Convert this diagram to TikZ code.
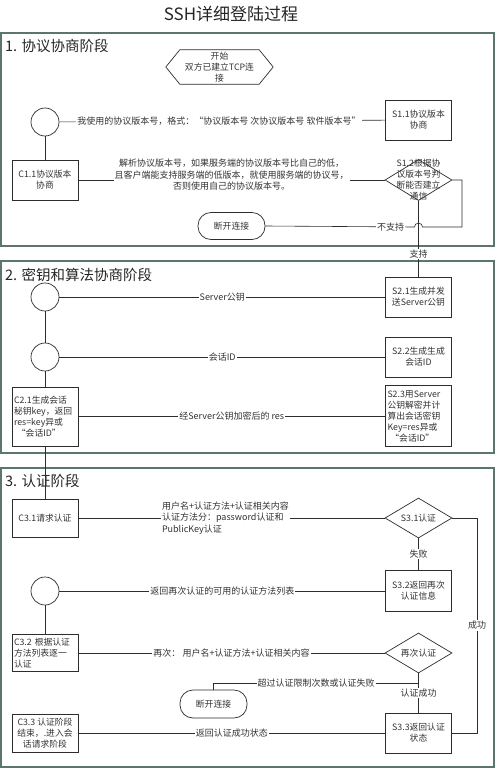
\documentclass[tikz,border=0pt]{standalone}
\usepackage{fontspec}
\setmainfont{Noto Sans CJK SC}
\usetikzlibrary{shapes.geometric}
\definecolor{framec}{RGB}{92,118,110}
\definecolor{linec}{RGB}{45,45,45}
\begin{document}
\begin{tikzpicture}[x=1pt,y=-1pt,
  frm/.style={draw=framec, line width=1.3pt},
  sbox/.style={draw=linec, line width=0.7pt, minimum width=66pt, minimum height=40pt, inner sep=2pt, align=center, font=\fontsize{8.8}{11}\selectfont, text=black!80},
  lbox/.style={sbox, align=left, text width=62pt},
  ccirc/.style={draw=linec, line width=0.7pt, circle, minimum size=28pt, inner sep=0pt},
  sdia/.style={draw=linec, line width=0.7pt, diamond, minimum width=67pt, minimum height=41pt, inner sep=0pt},
  dtext/.style={align=center, font=\fontsize{8.8}{11}\selectfont, text=black!80, inner sep=0pt},
  sterm/.style={draw=linec, line width=0.7pt, rounded corners=13pt, minimum width=67pt, minimum height=27pt, font=\fontsize{8.8}{11}\selectfont, text=black!80},
  cline/.style={draw=linec, line width=0.6pt},
  elbl/.style={fill=white, inner sep=1pt, font=\fontsize{9}{11.5}\selectfont, text=black!80},
  phlabel/.style={anchor=west, font=\fontsize{14.5}{16}\selectfont, inner sep=0pt, text=black!85}
]
\useasboundingbox (0,0) rectangle (495,768);
\fill[white] (0,0) rectangle (495,768);

% title
\node[font=\fontsize{17}{20}\selectfont, text=black!85] (title) at (231,14) {SSH详细登陆过程};

% frames
\draw[frm] (1,33) rectangle (494,246);
\draw[frm] (1,261) rectangle (494,453);
\draw[frm] (1,468) rectangle (494,767);

\node[phlabel] (p1) at (5,46) {1. 协议协商阶段};
\node[phlabel] (p2) at (5,275) {2. 密钥和算法协商阶段};
\node[phlabel] (p3) at (5,481) {3. 认证阶段};

% ---------- phase 1 ----------
\node[minimum width=107pt, minimum height=34pt, inner sep=0pt, align=center,
      font=\fontsize{8.8}{11}\selectfont, text=black!80] (start) at (219.5,67) {开始\\双方已建立TCP连\\接};
\draw[linec, line width=0.7pt] (start.west) -- ([xshift=14pt]start.north west) -- ([xshift=-14pt]start.north east)
  -- (start.east) -- ([xshift=-14pt]start.south east) -- ([xshift=14pt]start.south west) -- cycle;

\node[ccirc] (c1) at (45,122) {};
\node[sbox] (s11) at (418.5,120) {S1.1协议版本\\协商};
\node[sbox] (c11) at (45,180) {C1.1协议版本\\协商};
\node[sdia] (s12) at (418.5,180) {};
\node[dtext] (s12t) at (418.5,180) {S1.2根据协\\议版本号判\\断能否建立\\通信};
\node[sterm] (t1) at (231.5,226) {断开连接};

\draw[cline] (c1) -- node[elbl, pos=0.49] {我使用的协议版本号，格式：“协议版本号 次协议版本号 软件版本号”} (s11);
\draw[cline] (c1) -- (c11);
\draw[cline] (c11) -- node[elbl, align=center, yshift=5pt] {解析协议版本号，如果服务端的协议版本号比自己的低，\\且客户端能支持服务端的低版本，就使用服务端的协议号，\\否则使用自己的协议版本号。} (s12);
\draw[cline] (s12.east) -- (462,180) -- (462,227) -- (422.5,227)
  arc[start angle=0, end angle=180, radius=4pt] -- node[elbl, pos=0.16] {不支持} (t1.east);

% ---------- phase 2 ----------
\node[ccirc] (c2a) at (45,297) {};
\node[ccirc] (c2b) at (45,357) {};
\node[sbox] (s21) at (418.5,297) {S2.1生成并发\\送Server公钥};
\node[sbox] (s22) at (418.5,357) {S2.2生成生成\\会话ID};
\node[lbox, minimum height=59pt] (c21) at (45,416.5) {C2.1生成会话\\秘钥key，返回\\res=key异或\\\ “会话ID”};
\node[lbox, minimum height=61pt] (s23) at (418.5,416) {S2.3用Server\\公钥解密并计\\算出会话密钥\\Key=res异或\\\ “会话ID”};

\draw[cline] (s12.south) -- node[elbl, pos=0.7] {支持} (s21.north);
\draw[cline] (c2a) -- node[elbl] {Server公钥} (s21);
\draw[cline] (c2b) -- node[elbl] {会话ID} (s22);
\draw[cline] (c2a) -- (c2b);
\draw[cline] (c2b) -- (c21);
\draw[cline] (c21.east |- 0,416) -- node[elbl] {经Server公钥加密后的 res} (s23.west |- 0,416);

% ---------- phase 3 ----------
\node[sbox, minimum height=38pt] (c31) at (45,518) {C3.1请求认证};
\node[sdia, minimum height=40pt] (s31) at (418.5,518) {};
\node[dtext] (s31t) at (418.5,518) {S3.1认证};
\node[ccirc] (c3) at (45,591) {};
\node[sbox, minimum height=41pt] (s32) at (418.5,591) {S3.2返回再次\\认证信息};
\node[lbox, minimum height=37pt] (c32) at (45,653) {C3.2 根据认证\\方法列表逐一\\认证};
\node[sdia, minimum height=40pt] (re) at (418.5,653) {};
\node[dtext] (ret) at (418.5,653) {再次认证};
\node[sterm, minimum height=28pt] (t2) at (213.5,704) {断开连接};
\node[sbox] (s33) at (418.5,733) {S3.3返回认证\\状态};
\node[sbox, minimum height=38pt] (c33) at (45,733) {C3.3 认证阶段\\结束，.进入会\\话请求阶段};

\draw[cline] (c21) -- (c31);
\draw[cline] (c31) -- node[elbl, align=left, xshift=-6pt] {用户名+认证方法+认证相关内容\\认证方法分：password认证和\\PublicKey认证} (s31);
\draw[cline] (s31.south) -- node[elbl] {失败} (s32.north);
\draw[cline] (s31.east) -- (477,518) -- node[elbl] {成功} (477,733) -- (s33.east);
\draw[cline] (c3) -- node[elbl] {返回再次认证的可用的认证方法列表} (s32);
\draw[cline] (c3) -- (c32);
\draw[cline] (c32) -- node[elbl] {再次： 用户名+认证方法+认证相关内容} (re);
\draw[cline] (re.south) -- node[elbl] {认证成功} (s33.north);
\coordinate (br) at (418.5,683);
\draw[cline] (br) -- node[elbl] {超过认证限制次数或认证失败} (213.5,683) -- (t2.north);
\draw[cline] (c33) -- node[elbl] {返回认证成功状态} (s33);
\end{tikzpicture}
\end{document}
